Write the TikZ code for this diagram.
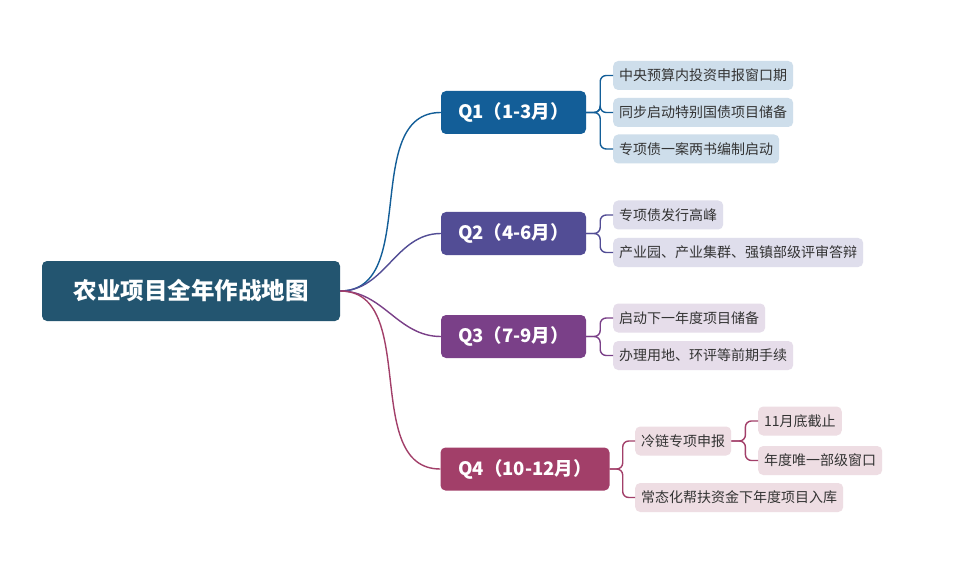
\documentclass[tikz,border=0pt]{standalone}
\usepackage{fontspec}
\newfontfamily\cjk{Noto Sans CJK SC}
\usetikzlibrary{positioning}
\definecolor{rootcol}{HTML}{235570}
\definecolor{qacol}{HTML}{135E98}
\definecolor{qbcol}{HTML}{524D95}
\definecolor{qccol}{HTML}{7A4088}
\definecolor{qdcol}{HTML}{A23F69}
\definecolor{lacol}{HTML}{CEDEEB}
\definecolor{lbcol}{HTML}{DFDEEC}
\definecolor{lccol}{HTML}{E6DDEA}
\definecolor{ldcol}{HTML}{EEDDE3}
\tikzset{rootbox/.style = {fill=rootcol, text=white, rounded corners=5pt, minimum width=298, minimum height=60, font=\cjk\bfseries\fontsize{23.5}{26}\selectfont}}
\tikzset{qbox/.style = {rounded corners=5pt, text=white, minimum width=145, minimum height=43, font=\cjk\bfseries\fontsize{18.5}{21}\selectfont}}
\tikzset{leaf/.style = {anchor=west, rounded corners=5pt, inner xsep=6, minimum height=29, text=black!80, font=\cjk\fontsize{14}{16}\selectfont}}
\tikzset{link/.style = {line width=1.4pt, rounded corners=6pt}}

\begin{document}
\begin{tikzpicture}[x=1pt, y=-1pt]
                \useasboundingbox[fill=white] (0,0) rectangle (961,572);
                \node[rootbox] (R) at (191,291) {农业项目全年作战地图};

                \node[qbox, fill=qacol] (Q1) at (513.5,112.5) {Q1（1-3月）};
                \node[qbox, fill=qbcol] (Q2) at (513.5,233.5) {Q2（4-6月）};
                \node[qbox, fill=qccol] (Q3) at (513.5,336.5) {Q3（7-9月）};
                \node[qbox, fill=qdcol, minimum width=169] (Q4) at (525,469) {Q4（10-12月）};

                \node[leaf, fill=lacol] (A1) at (613,75.5) {中央预算内投资申报窗口期};
                \node[leaf, fill=lacol] (A2) at (613,112.5) {同步启动特别国债项目储备};
                \node[leaf, fill=lacol] (A3) at (613,149) {专项债一案两书编制启动};

                \node[leaf, fill=lbcol] (B1) at (613,215) {专项债发行高峰};
                \node[leaf, fill=lbcol] (B2) at (613,252.5) {产业园、产业集群、强镇部级评审答辩};

                \node[leaf, fill=lccol] (C1) at (613,318) {启动下一年度项目储备};
                \node[leaf, fill=lccol] (C2) at (613,355.5) {办理用地、环评等前期手续};

                \node[leaf, fill=ldcol] (D1) at (635,441) {冷链专项申报};
                \node[leaf, fill=ldcol] (D2) at (635,497.5) {常态化帮扶资金下年度项目入库};
                \node[leaf, fill=ldcol] (E1) at (758,421) {11月底截止};
                \node[leaf, fill=ldcol] (E2) at (758,460.5) {年度唯一部级窗口};

                % root to quarters
                \draw[link, qacol] (R.east) to[out=0, in=180] (Q1.west);
                \draw[link, qbcol] (R.east) to[out=0, in=180] (Q2.west);
                \draw[link, qccol] (R.east) to[out=0, in=180] (Q3.west);
                \draw[link, qdcol] (R.east) to[out=0, in=180] (Q4.west);

                % quarters to tasks
                \draw[link, qacol] (Q1.east) -- ++(14,0) |- (A1.west);
                \draw[link, qacol] (Q1.east) -- ++(14,0) |- (A2.west);
                \draw[link, qacol] (Q1.east) -- ++(14,0) |- (A3.west);

                \draw[link, qbcol] (Q2.east) -- ++(14,0) |- (B1.west);
                \draw[link, qbcol] (Q2.east) -- ++(14,0) |- (B2.west);

                \draw[link, qccol] (Q3.east) -- ++(14,0) |- (C1.west);
                \draw[link, qccol] (Q3.east) -- ++(14,0) |- (C2.west);

                \draw[link, qdcol] (Q4.east) -- ++(13,0) |- (D1.west);
                \draw[link, qdcol] (Q4.east) -- ++(13,0) |- (D2.west);
                \draw[link, qdcol] (D1.east) -- ++(14,0) |- (E1.west);
                \draw[link, qdcol] (D1.east) -- ++(14,0) |- (E2.west);
            \end{tikzpicture}
\end{document}
